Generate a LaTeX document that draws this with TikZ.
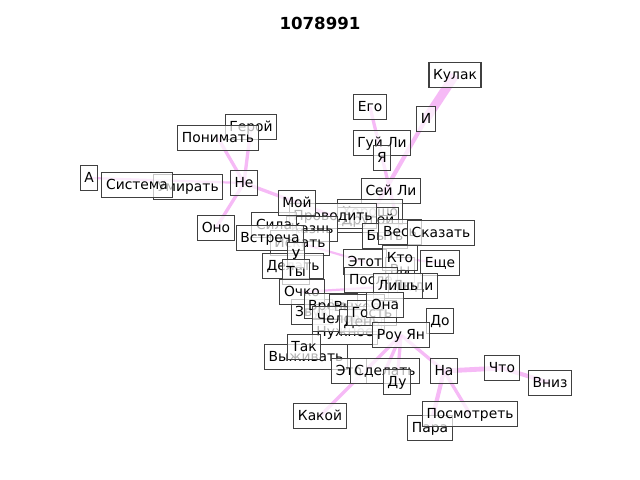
\documentclass[tikz,border=0pt]{standalone}
\usepackage{fontspec}
\setmainfont{DejaVu Sans}
\usetikzlibrary{backgrounds}
\definecolor{edgec}{RGB}{238,130,238}
\definecolor{boxc}{RGB}{64,64,64}
\begin{document}
\begin{tikzpicture}[x=0.01in,y=-0.01in,
  lbl/.style={draw=boxc, line width=0.75pt, fill=white, fill opacity=0.7, text opacity=1,
    inner xsep=3pt, inner ysep=3pt, text height=9.3pt, text depth=2.4pt,
    font=\fontsize{10}{12}\selectfont},
  ed/.style={draw=edgec, draw opacity=0.55, line width=#1},
  ed/.default=2.2pt]
\useasboundingbox (0,0) rectangle (640,480);
\node[font=\bfseries\fontsize{12}{14}\selectfont] (title) at (320,23) {1078991};
% top cluster
\node[lbl] (kulak) at (455,75) {Кулак};
\node[lbl] (ego) at (370,107) {Его};
\node[lbl] (i) at (426,119) {И};
\node[lbl] (guy) at (382,143) {Гуй Ли};
\node[lbl] (ya) at (382,158) {Я};
\node[lbl] (sey) at (391,191) {Сей Ли};
% left cluster
\node[lbl] (geroy) at (251,127) {Герой};
\node[lbl] (ponim) at (218,138) {Понимать};
\node[lbl] (a) at (89,178) {А};
\node[lbl] (umir) at (188,187) {Умирать};
\node[lbl] (sist) at (137,185) {Система};
\node[lbl] (ne) at (244,183) {Не};
\node[lbl] (ono) at (216,228) {Оно};
% centre
\node[lbl] (horosho) at (370,212) {Хорошо};
\node[lbl] (drugoy) at (368,220) {Другой};
\node[lbl] (provod) at (333,216) {Проводить};
\node[lbl] (byt) at (385,236) {Быть};
\node[lbl] (ves) at (400,232) {Весь};
\node[lbl] (skaz) at (441,233) {Сказать};
\node[lbl] (kazn) at (312,229) {Казнь};
\node[lbl] (sila) at (274,225) {Сила};
\node[lbl] (iskat) at (300,243) {Искать};
\node[lbl] (vstr) at (270,238) {Встреча};
\node[lbl] (moy) at (297,203) {Мой};
\node[lbl] (delat) at (293,266) {Делать};
\node[lbl] (u) at (296,255) {У};
\node[lbl] (ty) at (296,272) {Ты};
\node[lbl] (etot) at (365,262) {Этот};
\node[lbl] (vy) at (400,270) {Вы};
\node[lbl] (kto) at (400,258) {Кто};
\node[lbl] (esche) at (440,263) {Еще};
\node[lbl] (posle) at (371,280) {После};
\node[lbl] (lyudi) at (413,286) {Люди};
\node[lbl] (lish) at (398,286) {Лишь};
\node[lbl] (zvuk) at (312,312) {Звук};
\node[lbl] (ochko) at (302,292) {Очко};
\node[lbl] (nuzh) at (345,332) {Нужное};
\node[lbl] (vremya) at (331,306) {Время};
\node[lbl] (vyhod) at (357,307) {Выход};
\node[lbl] (chel) at (347,319) {Человек};
\node[lbl] (den) at (362,322) {День};
\node[lbl] (gost) at (372,313) {Гость};
\node[lbl] (ona) at (385,305) {Она};
\node[lbl] (do) at (440,321) {До};
\node[lbl] (rou) at (401,335) {Роу Ян};
% bottom
\node[lbl] (vyzh) at (306,357) {Выживать};
\node[lbl] (tak) at (304,347) {Так};
\node[lbl] (eto) at (349,371) {Это};
\node[lbl] (sdel) at (385,371) {Сделать};
\node[lbl] (du) at (397,382) {Ду};
\node[lbl] (na) at (444,371) {На};
\node[lbl] (chto) at (502,368) {Что};
\node[lbl] (vniz) at (550,383) {Вниз};
\node[lbl] (kakoy) at (320,416) {Какой};
\node[lbl] (para) at (430,428) {Пара};
\node[lbl] (posm) at (470,414) {Посмотреть};
\begin{scope}[on background layer]
\draw[ed=6.5pt] (kulak.center) -- (i.center);
\draw[ed=3pt] (i.center) -- (drugoy.center);
\draw[ed=2.4pt] (ego.center) -- (ves.center);
\draw[ed=2.4pt] (ponim.center) -- (ne.center);
\draw[ed=2.4pt] (geroy.center) -- (ne.center);
\draw[ed=1.6pt] (a.center) -- (ne.center);
\draw[ed=2.4pt] (ne.center) -- (ono.center);
\draw[ed=2.4pt] (ne.center) -- (provod.center);
\draw[ed=1.6pt] (iskat.center) -- (etot.center);
\draw[ed=1.6pt] (kto.center) -- (esche.center);
\draw[ed=1.6pt] (ochko.center) -- (lish.center);
\draw[ed=2.4pt] (rou.center) -- (kakoy.center);
\draw[ed=2.4pt] (rou.center) -- (sdel.center);
\draw[ed=2.4pt] (rou.center) -- (du.center);
\draw[ed=2.4pt] (rou.center) -- (na.center);
\draw[ed=3.5pt] (na.center) -- (chto.center);
\draw[ed=3pt] (chto.center) -- (vniz.center);
\draw[ed=3pt] (na.center) -- (para.center);
\draw[ed=2.4pt] (na.center) -- (posm.center);
\end{scope}
\end{tikzpicture}
\end{document}
